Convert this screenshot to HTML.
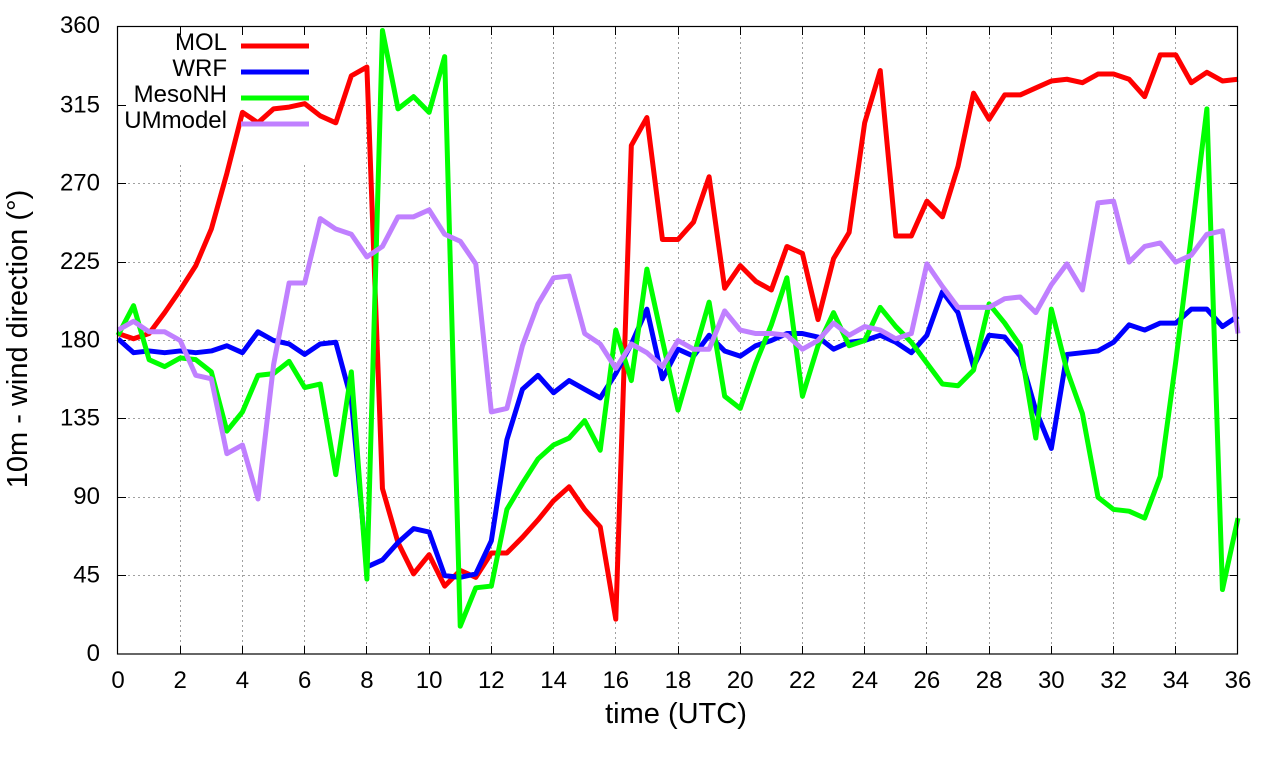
<!DOCTYPE html>
<html>
<head>
<meta charset="utf-8">
<style>
  html,body{margin:0;padding:0;background:#fff;}
  svg{display:block;}
  text{font-family:"Liberation Sans",Arial,sans-serif;fill:#000;}
</style>
</head>
<body>
<svg width="1280" height="760" viewBox="0 0 1280 760" xmlns="http://www.w3.org/2000/svg">
  <rect x="0" y="0" width="1280" height="760" fill="#fff"/>

  <!-- grid -->
  <g stroke="#a0a0a0" stroke-width="1" stroke-dasharray="2,3" fill="none">
    <!-- horizontal -->
    <line x1="118" y1="575.5" x2="1238" y2="575.5"/>
    <line x1="118" y1="497.5" x2="1238" y2="497.5"/>
    <line x1="118" y1="418.5" x2="1238" y2="418.5"/>
    <line x1="118" y1="340.5" x2="1238" y2="340.5"/>
    <line x1="118" y1="262.5" x2="1238" y2="262.5"/>
    <line x1="118" y1="183.5" x2="1238" y2="183.5"/>
    <line x1="313" y1="105.5" x2="1238" y2="105.5"/>
    <!-- vertical -->
    <line x1="180.5" y1="165" x2="180.5" y2="654"/>
    <line x1="242.5" y1="165" x2="242.5" y2="654"/>
    <line x1="304.5" y1="165" x2="304.5" y2="654"/>
    <line x1="366.5" y1="27" x2="366.5" y2="654"/>
    <line x1="429.5" y1="27" x2="429.5" y2="654"/>
    <line x1="491.5" y1="27" x2="491.5" y2="654"/>
    <line x1="553.5" y1="27" x2="553.5" y2="654"/>
    <line x1="615.5" y1="27" x2="615.5" y2="654"/>
    <line x1="678.5" y1="27" x2="678.5" y2="654"/>
    <line x1="740.5" y1="27" x2="740.5" y2="654"/>
    <line x1="802.5" y1="27" x2="802.5" y2="654"/>
    <line x1="864.5" y1="27" x2="864.5" y2="654"/>
    <line x1="926.5" y1="27" x2="926.5" y2="654"/>
    <line x1="989.5" y1="27" x2="989.5" y2="654"/>
    <line x1="1051.5" y1="27" x2="1051.5" y2="654"/>
    <line x1="1113.5" y1="27" x2="1113.5" y2="654"/>
    <line x1="1175.5" y1="27" x2="1175.5" y2="654"/>
  </g>

  <!-- ticks -->
  <g stroke="#000" stroke-width="1" fill="none">
    <path d="
      M118,575.5 h8 M118,497.5 h8 M118,418.5 h8 M118,340.5 h8 M118,262.5 h8 M118,183.5 h8 M118,105.5 h8
      M1238,575.5 h-8 M1238,497.5 h-8 M1238,418.5 h-8 M1238,340.5 h-8 M1238,262.5 h-8 M1238,183.5 h-8 M1238,105.5 h-8
      M180.5,654 v-8 M242.5,654 v-8 M304.5,654 v-8 M366.5,654 v-8 M429.5,654 v-8 M491.5,654 v-8 M553.5,654 v-8 M615.5,654 v-8 M678.5,654 v-8
      M740.5,654 v-8 M802.5,654 v-8 M864.5,654 v-8 M926.5,654 v-8 M989.5,654 v-8 M1051.5,654 v-8 M1113.5,654 v-8 M1175.5,654 v-8
      M180.5,27 v8 M242.5,27 v8 M304.5,27 v8 M366.5,27 v8 M429.5,27 v8 M491.5,27 v8 M553.5,27 v8 M615.5,27 v8 M678.5,27 v8
      M740.5,27 v8 M802.5,27 v8 M864.5,27 v8 M926.5,27 v8 M989.5,27 v8 M1051.5,27 v8 M1113.5,27 v8 M1175.5,27 v8
    "/>
  </g>

  <!-- data series -->
  <g transform="translate(118,654) scale(31.1111,-1.741667)" fill="none" stroke-width="5" stroke-linejoin="round">
    <polyline vector-effect="non-scaling-stroke" stroke="#ff0000" points="0,184 0.5,181 1,184 1.5,196 2,209 2.5,223 3,244 3.5,276 4,311 4.5,305 5,313 5.5,314 6,316 6.5,309 7,305 7.5,332 8,337 8.5,95 9,64 9.5,46 10,57 10.5,39 11,48 11.5,44 12,58 12.5,58 13,67 13.5,77 14,88 14.5,96 15,83 15.5,73 16,20 16.5,292 17,308 17.5,238 18,238 18.5,248 19,274 19.5,210 20,223 20.5,214 21,209 21.5,234 22,230 22.5,192 23,227 23.5,242 24,305 24.5,335 25,240 25.5,240 26,260 26.5,251 27,280 27.5,322 28,307 28.5,321 29,321 29.5,325 30,329 30.5,330 31,328 31.5,333 32,333 32.5,330 33,320 33.5,344 34,344 34.5,328 35,334 35.5,329 36,330"/>
    <polyline vector-effect="non-scaling-stroke" stroke="#0000ff" points="0,181 0.5,173 1,174 1.5,173 2,174 2.5,173 3,174 3.5,177 4,173 4.5,185 5,180 5.5,178 6,172 6.5,178 7,179 7.5,146 8,50 8.5,54 9,64 9.5,72 10,70 10.5,45 11,44 11.5,46 12,65 12.5,123 13,152 13.5,160 14,150 14.5,157 15,152 15.5,147 16,161 16.5,178 17,198 17.5,158 18,175 18.5,171 19,183 19.5,174 20,171 20.5,177 21,180 21.5,184 22,184 22.5,182 23,175 23.5,179 24,180 24.5,183 25,179 25.5,173 26,183 26.5,208 27,196 27.5,165 28,183 28.5,182 29,171 29.5,140 30,118 30.5,172 31,173 31.5,174 32,179 32.5,189 33,186 33.5,190 34,190 34.5,198 35,198 35.5,188 36,194"/>
    <polyline vector-effect="non-scaling-stroke" stroke="#00ff00" points="0,183 0.5,200 1,169 1.5,165 2,170 2.5,169 3,162 3.5,128 4,139 4.5,160 5,161 5.5,168 6,153 6.5,155 7,103 7.5,162 8,43 8.5,358 9,313 9.5,320 10,311 10.5,343 11,16 11.5,38 12,39 12.5,83 13,98 13.5,112 14,120 14.5,124 15,134 15.5,117 16,186 16.5,157 17,221 17.5,180 18,140 18.5,171 19,202 19.5,148 20,141 20.5,167 21,189 21.5,216 22,148 22.5,177 23,196 23.5,177 24,180 24.5,199 25,188 25.5,179 26,167 26.5,155 27,154 27.5,163 28,201 28.5,190 29,177 29.5,124 30,198 30.5,163 31,138 31.5,90 32,83 32.5,82 33,78 33.5,102 34,168 34.5,240 35,313 35.5,37 36,78"/>
    <polyline vector-effect="non-scaling-stroke" stroke="#c080ff" points="0,186 0.5,191 1,185 1.5,185 2,180 2.5,160 3,158 3.5,115 4,120 4.5,89 5,166 5.5,213 6,213 6.5,250 7,244 7.5,241 8,228 8.5,234 9,251 9.5,251 10,255 10.5,241 11,237 11.5,224 12,139 12.5,141 13,177 13.5,201 14,216 14.5,217 15,184 15.5,178 16,164 16.5,178 17,173 17.5,165 18,180 18.5,175 19,175 19.5,197 20,186 20.5,184 21,184 21.5,183 22,175 22.5,180 23,190 23.5,183 24,188 24.5,186 25,181 25.5,184 26,224 26.5,211 27,199 27.5,199 28,199 28.5,204 29,205 29.5,196 30,212 30.5,224 31,209 31.5,259 32,260 32.5,225 33,234 33.5,236 34,225 34.5,229 35,241 35.5,243 36,184"/>
  </g>

  <!-- border -->
  <rect x="117.5" y="26.5" width="1120" height="627.5" fill="none" stroke="#000" stroke-width="1.2"/>

  <!-- legend -->
  <g font-size="24" text-anchor="end">
    <text x="227" y="50">MOL</text>
    <text x="227" y="76">WRF</text>
    <text x="227" y="102">MesoNH</text>
    <text x="227" y="128">UMmodel</text>
  </g>
  <g stroke-width="5" fill="none">
    <line x1="241" y1="46" x2="309" y2="46" stroke="#ff0000"/>
    <line x1="241" y1="72" x2="309" y2="72" stroke="#0000ff"/>
    <line x1="241" y1="98" x2="309" y2="98" stroke="#00ff00"/>
    <line x1="241" y1="124" x2="309" y2="124" stroke="#c080ff"/>
  </g>

  <!-- y tick labels -->
  <g font-size="24" text-anchor="end">
    <text x="100" y="33">360</text>
    <text x="100" y="112.5">315</text>
    <text x="100" y="190.5">270</text>
    <text x="100" y="269">225</text>
    <text x="100" y="347.5">180</text>
    <text x="100" y="425.5">135</text>
    <text x="100" y="504">90</text>
    <text x="100" y="582.5">45</text>
    <text x="100" y="661">0</text>
  </g>

  <!-- x tick labels -->
  <g font-size="24" text-anchor="middle">
    <text x="118" y="688">0</text>
    <text x="180.2" y="688">2</text>
    <text x="242.4" y="688">4</text>
    <text x="304.7" y="688">6</text>
    <text x="366.9" y="688">8</text>
    <text x="429.1" y="688">10</text>
    <text x="491.3" y="688">12</text>
    <text x="553.6" y="688">14</text>
    <text x="615.8" y="688">16</text>
    <text x="678" y="688">18</text>
    <text x="740.2" y="688">20</text>
    <text x="802.4" y="688">22</text>
    <text x="864.7" y="688">24</text>
    <text x="926.9" y="688">26</text>
    <text x="989.1" y="688">28</text>
    <text x="1051.3" y="688">30</text>
    <text x="1113.6" y="688">32</text>
    <text x="1175.8" y="688">34</text>
    <text x="1238" y="688">36</text>
  </g>

  <!-- axis labels -->
  <text x="676" y="723" font-size="29" text-anchor="middle">time (UTC)</text>
  <text transform="translate(27,339) rotate(-90)" font-size="29" text-anchor="middle">10m - wind direction (°)</text>
</svg>
</body>
</html>
